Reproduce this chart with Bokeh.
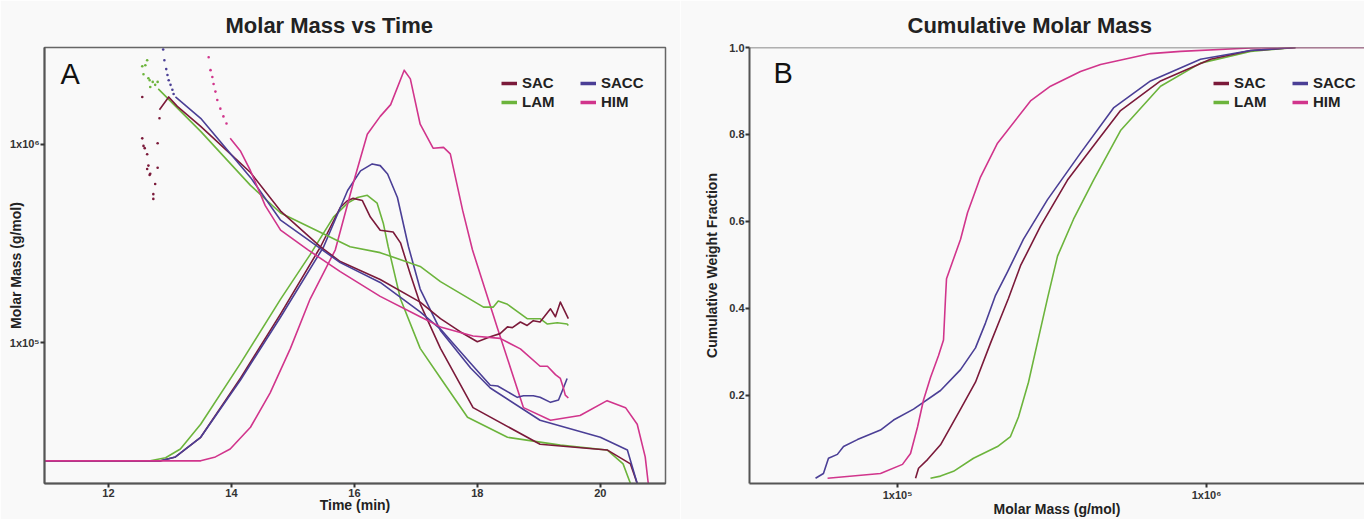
from bokeh.plotting import figure
from bokeh.layouts import row
from bokeh.models import (Range1d, FixedTicker, Legend, LegendItem, Label, Span,
                          LinearScale, PrintfTickFormatter)
from bokeh.embed import file_html
from bokeh.resources import INLINE

FONT = "Liberation Sans"
BG = "#f9f9f9"
SERIES = ["SAC", "SACC", "LAM", "HIM"]
COLORS = {"SAC": "#7b1a3a", "SACC": "#4b3f96", "LAM": "#6cb43c", "HIM": "#d1358c"}
NAN = float("nan")

# ---------------- Panel A: molar mass (g/mol) vs time (min) ----------------
# scattered early points (noisy molar mass at the leading edge)
sac_dot_t = [12.55, 12.55, 12.57, 12.59, 12.63, 12.65, 12.68, 12.73, 12.73, 12.76, 12.80, 12.80, 12.83, 12.63, 12.67]
sac_dot_m = [1.07e6, 1.73e6, 9.8e5, 9.55e5, 8.9e5, 7.8e5, 7.1e5, 5.6e5, 5.3e5, 6.3e5, 7.6e5, 1.01e6, 1.35e6, 7.5e5, 7.0e5]
lam_dot_t = [12.63, 12.55, 12.60, 12.57, 12.65, 12.72, 12.76, 12.80, 12.68, 12.67]
lam_dot_m = [2.65e6, 2.47e6, 2.50e6, 2.25e6, 2.15e6, 2.06e6, 1.99e6, 2.06e6, 1.94e6, 2.10e6]
sacc_dot_t = [12.89, 12.91, 12.94, 12.96, 12.98, 13.01, 13.04, 13.06]
sacc_dot_m = [3.0e6, 2.65e6, 2.39e6, 2.23e6, 2.10e6, 1.99e6, 1.88e6, 1.79e6]
him_dot_t = [13.63, 13.66, 13.69, 13.71, 13.74, 13.77, 13.82, 13.87, 13.92]
him_dot_m = [2.74e6, 2.36e6, 2.18e6, 2.01e6, 1.84e6, 1.67e6, 1.51e6, 1.38e6, 1.27e6]

# continuous molar mass traces
sac_mm_t = [12.83, 12.98, 13.12, 13.50, 13.90, 14.31, 14.80, 15.45, 15.77, 16.42, 17.07, 17.40, 17.72,
            18.00, 18.21, 18.37, 18.49, 18.57, 18.70, 18.81, 18.91, 19.02, 19.19, 19.27, 19.35, 19.48]
sac_mm_m = [1.49e6, 1.73e6, 1.55e6, 1.23e6, 9.44e5, 7.2e5, 4.6e5, 3.04e5, 2.56e5, 2.08e5, 1.60e5, 1.32e5, 1.135e5,
            1.01e5, 1.07e5, 1.11e5, 1.20e5, 1.19e5, 1.27e5, 1.22e5, 1.29e5, 1.27e5, 1.48e5, 1.35e5, 1.60e5, 1.32e5]
sacc_mm_t = [13.09, 13.50, 14.31, 14.80, 15.77, 16.42, 17.07, 17.40, 17.89, 18.21, 18.33, 18.65, 18.75,
             18.91, 19.02, 19.19, 19.32, 19.38, 19.46]
sacc_mm_m = [1.73e6, 1.35e6, 6.8e5, 4.14e5, 2.53e5, 2.01e5, 1.43e5, 1.17e5, 7.87e4, 6.1e4, 6.04e4, 5.3e4, 5.4e4,
             5.4e4, 5.3e4, 5.0e4, 5.14e4, 5.7e4, 6.6e4]
lam_mm_t = [12.81, 13.50, 14.31, 14.80, 15.93, 16.42, 17.07, 17.40, 18.10, 18.26, 18.34, 18.49, 18.81,
            19.02, 19.14, 19.30, 19.46, 19.48]
lam_mm_m = [1.90e6, 1.16e6, 6.2e5, 4.5e5, 3.04e5, 2.84e5, 2.42e5, 2.03e5, 1.51e5, 1.51e5, 1.62e5, 1.56e5, 1.32e5,
            1.32e5, 1.24e5, 1.26e5, 1.24e5, 1.22e5]
him_mm_t = [13.98, 14.15, 14.31, 14.55, 14.80, 15.24, 15.77, 16.42, 17.07, 17.40, 17.93, 18.37, 18.70,
            19.02, 19.14, 19.27, 19.35, 19.40, 19.43, 19.48]
him_mm_m = [1.07e6, 9.2e5, 7.35e5, 4.9e5, 3.69e5, 2.94e5, 2.28e5, 1.71e5, 1.35e5, 1.20e5, 1.08e5, 1.05e5, 9.3e4,
            7.6e4, 7.6e4, 6.9e4, 6.6e4, 5.9e4, 5.44e4, 5.26e4]

# detector signal traces (relative units, hidden linear axis)
lam_sig_t = [10.96, 12.68, 12.93, 13.17, 13.50, 14.15, 14.80, 15.28, 15.66, 15.89, 16.05, 16.21, 16.37, 16.47,
             16.55, 16.75, 17.07, 17.40, 17.84, 18.49, 19.35, 20.11, 20.37, 20.49]
lam_sig_v = [.052, .052, .059, .079, .136, .276, .423, .525, .611, .643, .656, .661, .643, .597,
             .543, .423, .310, .242, .152, .106, .088, .077, .045, 0]
sac_sig_t = [10.96, 12.85, 13.09, 13.50, 14.15, 14.80, 15.45, 15.77, 15.88, 15.98, 16.13, 16.26, 16.42, 16.63,
             16.75, 16.91, 17.07, 17.40, 17.93, 19.02, 20.11, 20.49, 20.60]
sac_sig_v = [.052, .052, .061, .106, .242, .389, .543, .633, .648, .654, .649, .611, .581, .577,
             .552, .480, .412, .310, .174, .090, .077, .045, 0]
sacc_sig_t = [10.96, 12.85, 13.09, 13.50, 14.15, 14.80, 15.50, 15.89, 16.10, 16.29, 16.42, 16.54, 16.70, 16.88,
              17.07, 17.40, 17.89, 18.21, 19.02, 20.00, 20.44, 20.60]
sacc_sig_v = [.052, .052, .061, .106, .238, .382, .543, .672, .717, .733, .729, .710, .656, .543,
              .446, .351, .265, .219, .145, .106, .077, 0]
him_sig_t = [10.96, 13.50, 13.74, 13.98, 14.31, 14.63, 14.96, 15.28, 15.69, 15.98, 16.21, 16.42, 16.59, 16.81,
             16.91, 17.07, 17.28, 17.45, 17.56, 17.76, 17.92, 18.33, 18.75, 19.19, 19.67, 20.11, 20.41, 20.60,
             20.73, 20.78]
him_sig_v = [.052, .052, .061, .079, .129, .208, .310, .423, .536, .688, .801, .842, .869, .948,
             .928, .824, .769, .771, .756, .627, .536, .355, .174, .145, .156, .190, .174, .136,
             .061, 0]

time_ticks = [12, 14, 16, 18, 20]
mm_ticks = [1e5, 1e6]
mm_tick_labels = {100000: "1x10\u2075", 1000000: "1x10\u2076"}

# ---------------- Panel B: cumulative weight fraction vs molar mass ----------------
him_cum_m = [5.94e4, 8.81e4, 1.038e5, 1.102e5, 1.161e5, 1.214e5, 1.279e5, 1.357e5, 1.409e5, 1.430e5, 1.441e5,
             1.507e5, 1.600e5, 1.685e5, 1.856e5, 2.107e5, 2.694e5, 3.127e5, 3.91e5, 4.54e5, 6.59e5, 8.24e5,
             1.388e6, 2.015e6, 3.24e6]
him_cum_f = [.009, .020, .041, .066, .127, .189, .241, .291, .327, .423, .468,
             .507, .559, .620, .702, .780, .877, .911, .945, .961, .986, .991,
             .999, 1.0, 1.0]
sacc_cum_m = [5.43e4, 5.76e4, 5.98e4, 6.39e4, 6.69e4, 7.42e4, 8.81e4, 9.71e4, 1.127e5, 1.378e5, 1.600e5, 1.788e5,
              1.926e5, 2.076e5, 2.270e5, 2.557e5, 3.058e5, 3.91e5, 5.00e5, 6.59e5, 9.56e5, 1.388e6, 1.941e6]
sacc_cum_f = [.009, .020, .055, .064, .082, .098, .120, .143, .168, .211, .259, .309,
              .366, .430, .484, .559, .650, .757, .861, .923, .973, .993, 1.0]
sac_cum_m = [1.144e5, 1.170e5, 1.251e5, 1.378e5, 1.600e5, 1.788e5, 2.000e5, 2.154e5, 2.287e5, 2.501e5, 2.903e5,
             3.549e5, 4.44e5, 5.27e5, 7.10e5, 1.030e6, 1.388e6, 1.941e6]
sac_cum_f = [.009, .032, .052, .086, .168, .230, .320, .377, .423, .498, .589,
             .695, .786, .855, .923, .973, .993, 1.0]
lam_cum_m = [1.279e5, 1.378e5, 1.518e5, 1.762e5, 2.107e5, 2.321e5, 2.463e5, 2.654e5, 2.860e5, 3.058e5, 3.295e5,
             3.712e5, 4.31e5, 5.27e5, 7.10e5, 9.56e5, 1.388e6, 1.941e6]
lam_cum_f = [.009, .014, .025, .055, .082, .105, .150, .230, .332, .423, .520,
             .605, .695, .809, .911, .964, .991, 1.0]

frac_ticks = [0.2, 0.4, 0.6, 0.8, 1.0]

H = 519


def style_axes(p):
    p.background_fill_color = BG
    p.border_fill_color = BG
    p.grid.visible = False
    for ax in p.axis:
        ax.axis_line_color = "#555555"
        ax.axis_line_width = 2
        ax.major_tick_line_color = "#333333"
        ax.major_tick_line_width = 2
        ax.major_tick_out = 4
        ax.major_tick_in = 0
        ax.minor_tick_line_color = None
        ax.major_label_standoff = 1
        ax.major_label_text_font = FONT
        ax.major_label_text_font_style = "bold"
        ax.major_label_text_font_size = "11px"
        ax.major_label_text_color = "#333333"
        ax.axis_label_text_font = FONT
        ax.axis_label_text_font_style = "bold"
        ax.axis_label_text_font_size = "14px"
        ax.axis_label_text_color = "#222222"
    p.xaxis.axis_label_standoff = -3
    p.title.text_font = FONT
    p.title.text_font_style = "bold"
    p.title.text_font_size = "22px"
    p.title.text_color = "#222222"
    p.title.align = "left"
    p.title.standoff = 20


def add_legend(p, renderers, x_cols, y_bottom):
    for col, names in zip(x_cols, [["SAC", "LAM"], ["SACC", "HIM"]]):
        lg = Legend(items=[LegendItem(label=n, renderers=[renderers[n]]) for n in names],
                    location=(col, y_bottom), orientation="vertical")
        lg.border_line_color = None
        lg.background_fill_alpha = 0
        lg.padding = 0
        lg.margin = 0
        lg.spacing = 2
        lg.glyph_width = 16
        lg.glyph_height = 16
        lg.label_height = 16
        lg.label_standoff = 5
        lg.label_text_font = FONT
        lg.label_text_font_style = "bold"
        lg.label_text_font_size = "15px"
        lg.label_text_color = "#222222"
        lg.label_text_baseline = "middle"
        p.add_layout(lg)


# ---------------- figure A ----------------
pa = figure(width=680, height=H, y_axis_type="log",
            x_range=Range1d(10.96, 21.06), y_range=Range1d(1.95e4, 3.07e6),
            title="Molar Mass vs Time", output_backend="svg", toolbar_location=None,
            min_border_left=44, min_border_right=15, min_border_top=45, min_border_bottom=31)
pa.extra_y_ranges = {"sig": Range1d(0, 1)}
pa.extra_y_scales = {"sig": LinearScale()}
style_axes(pa)
pa.title.offset = 181
pa.outline_line_color = "#666666"
pa.outline_line_width = 1.5
pa.xaxis.ticker = FixedTicker(ticks=time_ticks)
pa.yaxis.ticker = FixedTicker(ticks=mm_ticks)
pa.yaxis.major_label_overrides = mm_tick_labels
pa.xaxis.axis_label = "Time (min)"
pa.yaxis.axis_label = "Molar Mass (g/mol)"
pa.yaxis.axis_label_standoff = -17

sig = {"SAC": (sac_sig_t, sac_sig_v), "SACC": (sacc_sig_t, sacc_sig_v),
       "LAM": (lam_sig_t, lam_sig_v), "HIM": (him_sig_t, him_sig_v)}
mm = {"SAC": (sac_mm_t, sac_mm_m), "SACC": (sacc_mm_t, sacc_mm_m),
      "LAM": (lam_mm_t, lam_mm_m), "HIM": (him_mm_t, him_mm_m)}
dots = {"SAC": (sac_dot_t, sac_dot_m), "SACC": (sacc_dot_t, sacc_dot_m),
        "LAM": (lam_dot_t, lam_dot_m), "HIM": (him_dot_t, him_dot_m)}

for n in ["LAM", "SAC", "SACC", "HIM"]:
    t, v = sig[n]
    pa.line(t, v, line_color=COLORS[n], line_width=1.6, y_range_name="sig", line_join="round")
for n in ["LAM", "SAC", "SACC", "HIM"]:
    t, m = mm[n]
    pa.line(t, m, line_color=COLORS[n], line_width=1.6, line_join="round")
    dt, dm = dots[n]
    pa.scatter(dt, dm, size=2.6, color=COLORS[n], line_color=None)

leg_a = {n: pa.line(x=[NAN], y=[NAN], line_color=COLORS[n], line_width=3.5) for n in SERIES}
add_legend(pa, leg_a, [457, 536], 373)
pa.add_layout(Label(x=11.22, y=2.71e6, text="A", text_font=FONT, text_font_size="29px",
                    text_baseline="top", text_color="#111111"))

# ---------------- figure B ----------------
pb = figure(width=684, height=H, x_axis_type="log",
            x_range=Range1d(3.32e4, 3.245e6), y_range=Range1d(-0.003, 1.0),
            title="Cumulative Molar Mass", output_backend="svg", toolbar_location=None,
            min_border_left=69, min_border_right=0, min_border_top=45, min_border_bottom=31)
style_axes(pb)
pb.title.offset = 158
pb.outline_line_color = None
pb.add_layout(Span(location=1.0, dimension="width", line_color="#666666", line_width=1.5))
pb.xaxis.ticker = FixedTicker(ticks=mm_ticks)
pb.xaxis.major_label_overrides = mm_tick_labels
pb.yaxis.ticker = FixedTicker(ticks=frac_ticks)
pb.yaxis.formatter = PrintfTickFormatter(format="%.1f")
pb.xaxis.axis_label = "Molar Mass (g/mol)"
pb.yaxis.axis_label = "Cumulative Weight Fraction"
pb.yaxis.axis_label_standoff = 6

cum = {"SAC": (sac_cum_m, sac_cum_f), "SACC": (sacc_cum_m, sacc_cum_f),
       "LAM": (lam_cum_m, lam_cum_f), "HIM": (him_cum_m, him_cum_f)}
for n in ["LAM", "SAC", "SACC", "HIM"]:
    m, f = cum[n]
    pb.line(m, f, line_color=COLORS[n], line_width=1.6, line_join="round")

leg_b = {n: pb.line(x=[NAN], y=[NAN], line_color=COLORS[n], line_width=3.5) for n in SERIES}
add_legend(pb, leg_b, [464, 543], 373)
pb.add_layout(Label(x=3.97e4, y=0.977, text="B", text_font=FONT, text_font_size="29px",
                    text_baseline="top", text_color="#111111"))

layout = row(pa, pb)
open("out.html", "w").write(file_html(layout, INLINE))
